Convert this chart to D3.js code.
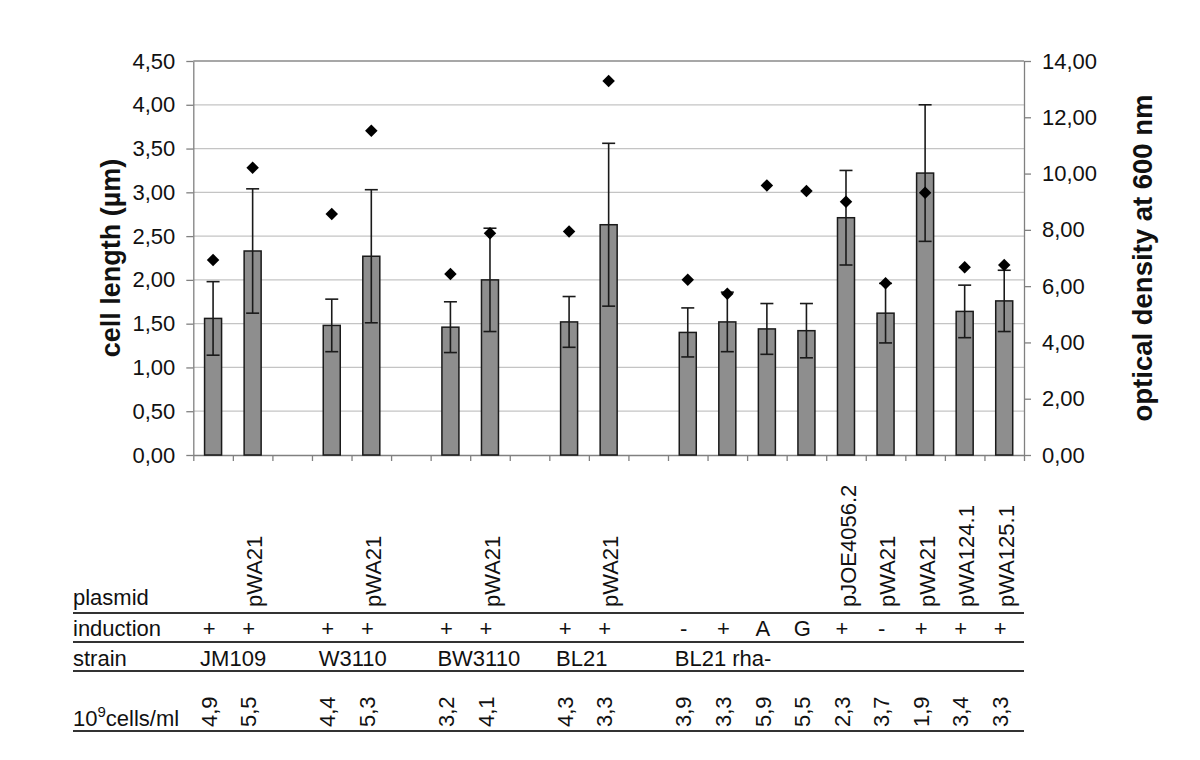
<!DOCTYPE html>
<html>
<head>
<meta charset="utf-8">
<script src="https://cdn.jsdelivr.net/npm/d3@7"></script>
<style>
  body { margin: 0; background: #fff; }
  svg { display: block; font-family: "Liberation Sans", Arial, sans-serif; }
</style>
</head>
<body>
<svg id="chart" width="1200" height="760"></svg>
<script>
// strains, one gap slot between each group
const strains = ['JM109', 'W3110', 'BW3110', 'BL21', 'BL21 rha-'];
const barStrain = [0, 0, 1, 1, 2, 2, 3, 3, 4, 4, 4, 4, 4, 4, 4, 4, 4];
const plasmid = ['', 'pWA21', '', 'pWA21', '', 'pWA21', '', 'pWA21',
  '', '', '', '', 'pJOE4056.2', 'pWA21', 'pWA21', 'pWA124.1', 'pWA125.1'];
const induction = ['+', '+', '+', '+', '+', '+', '+', '+',
  '-', '+', 'A', 'G', '+', '-', '+', '+', '+'];
const cellsPerMl = ['4,9', '5,5', '4,4', '5,3', '3,2', '4,1', '4,3', '3,3',
  '3,9', '3,3', '5,9', '5,5', '2,3', '3,7', '1,9', '3,4', '3,3'];

// cell length (µm), mean and sd
const cellLength = [1.56, 2.33, 1.48, 2.27, 1.46, 2.00, 1.52, 2.63,
  1.40, 1.52, 1.44, 1.42, 2.71, 1.62, 3.22, 1.64, 1.76];
const cellLengthErr = [0.42, 0.71, 0.30, 0.76, 0.29, 0.59, 0.29, 0.93,
  0.28, 0.34, 0.29, 0.31, 0.54, 0.34, 0.78, 0.30, 0.35];
// optical density at 600 nm
const od600 = [6.93, 10.21, 8.56, 11.52, 6.43, 7.88, 7.94, 13.29,
  6.23, 5.73, 9.58, 9.38, 9.00, 6.10, 9.32, 6.67, 6.75];

const leftTicks = d3.range(0, 4.51, 0.5);
const rightTicks = d3.range(0, 14.1, 2);

const svg = d3.select('#chart');
const plot = { left: 193.3, right: 1024, top: 61, bottom: 455 };

const slots = barStrain.map((g, i) => i + g);
const nSlots = d3.max(slots) + 1;

const x = d3.scaleBand().domain(d3.range(nSlots)).range([plot.left, plot.right]).padding(0);
const xEdge = d3.scaleLinear().domain([0, nSlots]).range([plot.left, plot.right]);
const yL = d3.scaleLinear().domain([0, 4.5]).range([plot.bottom, plot.top]);
const yR = d3.scaleLinear().domain([0, 14]).range([plot.bottom, plot.top]);

const comma = d => d.toFixed(2).replace('.', ',');
const cx = i => x(slots[i]) + x.bandwidth() / 2;
const barW = x.bandwidth() * 0.43;
const capW = 13;

// gridlines
svg.append('g')
  .selectAll('line')
  .data(leftTicks.filter(d => d > 0))
  .join('line')
  .attr('x1', plot.left).attr('x2', plot.right)
  .attr('y1', d => yL(d)).attr('y2', d => yL(d))
  .attr('stroke', d => d === 4.5 ? '#8a8a8a' : '#c4c4c4')
  .attr('stroke-width', 1.3);

// axes
const styleAxis = g => {
  g.select('.domain').attr('stroke', '#808080').attr('stroke-width', 1.3);
  g.selectAll('.tick line').attr('stroke', '#808080').attr('stroke-width', 1.3);
  g.selectAll('text').attr('fill', '#111').attr('font-size', 22);
};

svg.append('g')
  .attr('transform', `translate(${plot.left},0)`)
  .call(d3.axisLeft(yL).tickValues(leftTicks).tickFormat(comma).tickSize(7).tickPadding(11).tickSizeOuter(0))
  .call(styleAxis)
  .call(g => g.attr('font-family', null));

svg.append('g')
  .attr('transform', `translate(${plot.right},0)`)
  .call(d3.axisRight(yR).tickValues(rightTicks).tickFormat(comma).tickSize(7).tickPadding(11).tickSizeOuter(0))
  .call(styleAxis)
  .call(g => g.attr('font-family', null));

svg.append('g')
  .attr('transform', `translate(0,${plot.bottom})`)
  .call(d3.axisBottom(xEdge).tickValues(d3.range(nSlots + 1)).tickFormat('').tickSize(6).tickSizeOuter(0))
  .call(styleAxis);

// axis titles
svg.append('text')
  .attr('transform', `translate(111,${(plot.top + plot.bottom) / 2}) rotate(-90)`)
  .attr('text-anchor', 'middle').attr('dy', '0.35em')
  .attr('font-size', 27).attr('font-weight', 'bold').attr('fill', '#111')
  .text('cell length (µm)');

svg.append('text')
  .attr('transform', `translate(1142,${(plot.top + plot.bottom) / 2}) rotate(-90)`)
  .attr('text-anchor', 'middle').attr('dy', '0.35em')
  .attr('font-size', 27.5).attr('font-weight', 'bold').attr('fill', '#111')
  .text('optical density at 600 nm');

// bars
svg.append('g')
  .selectAll('rect')
  .data(cellLength)
  .join('rect')
  .attr('x', (d, i) => cx(i) - barW / 2)
  .attr('width', barW)
  .attr('y', d => yL(d))
  .attr('height', d => yL(0) - yL(d))
  .attr('fill', '#8e8e8e')
  .attr('stroke', '#1a1a1a')
  .attr('stroke-width', 1.5);

// error bars
const err = svg.append('g').attr('stroke', '#1a1a1a').attr('stroke-width', 1.6);
cellLength.forEach((d, i) => {
  const lo = yL(d - cellLengthErr[i]);
  const hi = yL(d + cellLengthErr[i]);
  err.append('line').attr('x1', cx(i)).attr('x2', cx(i)).attr('y1', lo).attr('y2', hi);
  err.append('line').attr('x1', cx(i) - capW / 2).attr('x2', cx(i) + capW / 2).attr('y1', lo).attr('y2', lo);
  err.append('line').attr('x1', cx(i) - capW / 2).attr('x2', cx(i) + capW / 2).attr('y1', hi).attr('y2', hi);
});

// OD diamonds
svg.append('g')
  .selectAll('path')
  .data(od600)
  .join('path')
  .attr('d', d3.symbol(d3.symbolSquare, 78))
  .attr('transform', (d, i) => `translate(${cx(i)},${yR(d)}) rotate(45)`)
  .attr('fill', '#000');

// table below the chart
const table = svg.append('g').attr('font-size', 22).attr('fill', '#111');
const tableLeft = 73;
const colX = i => cx(i) - 4;

[613, 642, 671, 731].forEach(y => {
  table.append('line')
    .attr('x1', tableLeft).attr('x2', plot.right)
    .attr('y1', y).attr('y2', y)
    .attr('stroke', '#333').attr('stroke-width', 2);
});

table.append('text').attr('x', tableLeft).attr('y', 605).text('plasmid');
table.append('text').attr('x', tableLeft).attr('y', 636).text('induction');
table.append('text').attr('x', tableLeft).attr('y', 666).text('strain');
const cellsLabel = table.append('text').attr('x', tableLeft).attr('y', 726);
cellsLabel.append('tspan').text('10');
cellsLabel.append('tspan').attr('font-size', 15).attr('dy', -9).text('9');
cellsLabel.append('tspan').attr('dy', 9).text('cells/ml');

table.selectAll('.plasmid')
  .data(plasmid)
  .join('text')
  .attr('class', 'plasmid')
  .attr('transform', (d, i) => `translate(${colX(i) + 6},607) rotate(-90)`)
  .attr('dy', '0.35em')
  .text(d => d);

table.selectAll('.induction')
  .data(induction)
  .join('text')
  .attr('class', 'induction')
  .attr('x', (d, i) => colX(i))
  .attr('y', 636)
  .attr('text-anchor', 'middle')
  .text(d => d);

table.selectAll('.strain')
  .data(strains)
  .join('text')
  .attr('class', 'strain')
  .attr('x', (d, g) => cx(barStrain.indexOf(g)) - 13)
  .attr('y', 666)
  .text(d => d);

table.selectAll('.cells')
  .data(cellsPerMl)
  .join('text')
  .attr('class', 'cells')
  .attr('transform', (d, i) => `translate(${colX(i)},727) rotate(-90)`)
  .attr('dy', '0.35em')
  .text(d => d);
</script>
</body>
</html>
